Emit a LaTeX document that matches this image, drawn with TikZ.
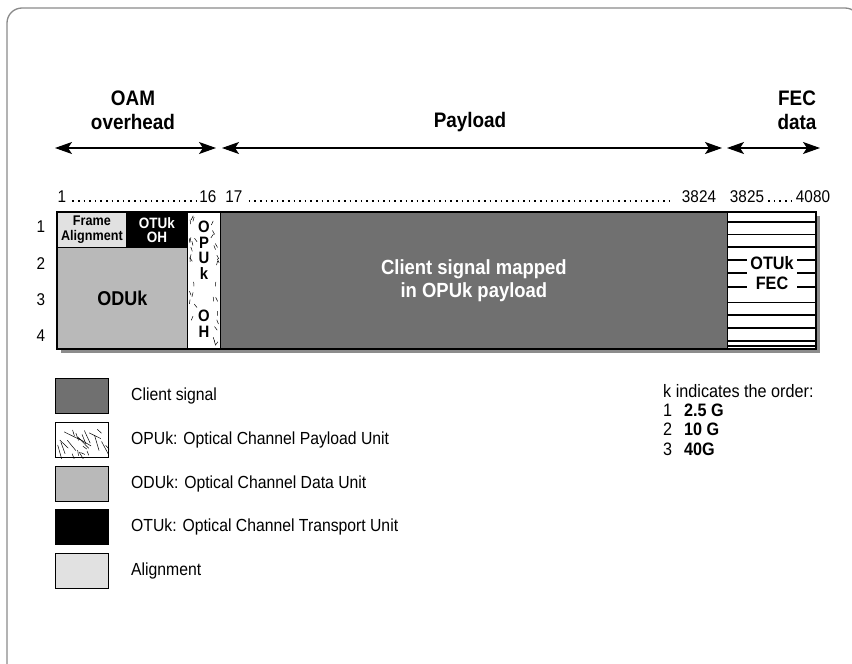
\documentclass[tikz,border=0pt]{standalone}
\usepackage{fontspec}
\setmainfont{Liberation Sans}[FakeStretch=0.9]
\usepackage{tikz}
\usetikzlibrary{arrows.meta,positioning}

\definecolor{clientgray}{HTML}{707070}
\definecolor{odugray}{HTML}{B9B9B9}
\definecolor{aligngray}{HTML}{E1E1E1}
\definecolor{shadowgray}{HTML}{8C8C8C}
\definecolor{framegray}{HTML}{8A8A8A}

\tikzset{
	cell/.style={draw=black, line width=0.8pt, anchor=north west, inner sep=0pt, align=center},
	span/.style={{Stealth[length=17pt,width=12pt,inset=4pt]}-{Stealth[length=17pt,width=12pt,inset=4pt]}, line width=1.1pt},
	head/.style={font=\bfseries\fontsize{21}{24}\selectfont, align=center, inner sep=0pt},
	num/.style={font=\fontsize{17}{17}\selectfont, inner sep=0pt, anchor=base},
	numdots/.style={line width=1.6pt, dash pattern=on 1.6pt off 4pt},
	swatch/.style={draw=black, line width=1.2pt, minimum width=53pt, minimum height=35pt, inner sep=0pt, anchor=north west},
	legtext/.style={font=\fontsize{17.5}{17.5}\selectfont, anchor=west, inner sep=0pt},
}

\begin{document}
\begin{tikzpicture}[x=1pt,y=-1pt]
	\useasboundingbox (0,0) rectangle (852,664);
	\draw[framegray, line width=1.3pt, rounded corners=15pt] (7,8) rectangle (860,680);

	% section headings and spans
	\node[head] (oam) at (133,110) {OAM\\overhead};
	\node[head] (payload) at (470,122) {Payload};
	\node[head] (fecdata) at (797,110) {FEC\\data};
	\coordinate (oamL) at (55,148);
	\coordinate (oamR) at (216,148);
	\coordinate (payL) at (222,148);
	\coordinate (payR) at (722,148);
	\coordinate (fecL) at (727,148);
	\coordinate (fecR) at (820,148);
	\draw[span] (oamL) -- (oamR);
	\draw[span] (payL) -- (payR);
	\draw[span] (fecL) -- (fecR);

	% column numbers
	\node[num] (c1) at (62,202) {1};
	\node[num] (c16) at (208,202) {16};
	\node[num] (c17) at (234,202) {17};
	\node[num] (c3824) at (699,202) {3824};
	\node[num] (c3825) at (747,202) {3825};
	\node[num] (c4080) at (813,202) {4080};
	\draw[numdots] ([xshift=6pt,yshift=0.8pt]c1.base east) -- ([xshift=-1pt,yshift=0.8pt]c16.base west);
	\draw[numdots] ([xshift=6pt,yshift=0.8pt]c17.base east) -- ([xshift=-8pt,yshift=0.8pt]c3824.base west);
	\draw[numdots] ([xshift=4pt,yshift=0.8pt]c3825.base east) -- ([xshift=-2pt,yshift=0.8pt]c4080.base west);

	% row numbers
	\foreach \r/\y in {1/227,2/264,3/300,4/336}
		\node[font=\fontsize{17}{17}\selectfont] (row\r) at (41,\y) {\r};

	% frame
	\fill[shadowgray] (61,216) rectangle (820,353);
	\node[cell, fill=aligngray, minimum width=69pt, minimum height=35pt, font=\bfseries\fontsize{14}{14.5}\selectfont] (fa) at (57,212) {Frame\\Alignment};
	\node[cell, fill=black, text=white, minimum width=61pt, minimum height=35pt, font=\bfseries\fontsize{15}{14.5}\selectfont] (otuoh) at (126,212) {OTUk\\OH};
	\node[cell, fill=odugray, minimum width=130pt, minimum height=102pt, font=\bfseries\fontsize{20}{20}\selectfont] (odu) at (57,247) {ODUk};
	\node[cell, fill=white, minimum width=33pt, minimum height=137pt] (opu) at (187,212) {};
	\node[cell, fill=clientgray, text=white, minimum width=507pt, minimum height=137pt, font=\bfseries\fontsize{20.5}{23.5}\selectfont] (pay) at (220,212) {Client signal mapped\\in OPUk payload};
	\node[cell, fill=white, minimum width=89pt, minimum height=137pt] (fec) at (727,212) {};

	% OPUk texture
	\pgfmathsetseed{11}
	\foreach \i in {1,...,34}{
		\pgfmathsetmacro{\px}{ifthenelse(mod(\i,2)==0, 189+rnd*6, 212+rnd*6)}
		\pgfmathsetmacro{\py}{215+rnd*130}
		\pgfmathsetmacro{\pa}{50+rnd*80}
		\draw[line width=0.5pt] (\px,\py) -- ++(\pa:4.5);
	}
	\node[font=\bfseries\fontsize{16.5}{15.7}\selectfont, align=center, inner sep=0pt] (opuoh) at (204,279) {O\\P\\U\\k\\[26pt]O\\H};

	% FEC stripes
	\foreach \y in {222,234.5,247,260,273,287,302.5,315,328,341,346}
		\draw[line width=1.1pt] (727,\y) -- (816,\y);
	\node[fill=white, font=\bfseries\fontsize{18}{20}\selectfont, align=center, inner sep=3pt] (fectext) at (772,273) {OTUk\\FEC};
	\draw[line width=1.4pt] (57,212) rectangle (816,349);

	% legend
	\node[swatch, fill=clientgray] (lclient) at (55,378) {};
	\node[swatch, fill=white] (lopu) at (55,422) {};
	\node[swatch, fill=odugray] (lodu) at (55,466) {};
	\node[swatch, fill=black] (lotu) at (55,509) {};
	\node[swatch, fill=aligngray] (lalign) at (55,553) {};
	\begin{scope}
		\clip (lopu.south west) rectangle (lopu.north east);
		\pgfmathsetseed{5}
		\foreach \i in {1,...,22}{
			\pgfmathsetmacro{\px}{57+rnd*49}
			\pgfmathsetmacro{\py}{424+rnd*31}
			\pgfmathsetmacro{\pa}{20+rnd*70}
			\pgfmathsetmacro{\pl}{4+rnd*14}
			\draw[line width=0.5pt] (\px,\py) -- ++(\pa:\pl);
		}
	\end{scope}
	\node[swatch] at (lopu.north west) {};
	\node[legtext] (tclient) at (131,396) {Client signal};
	\node[legtext] (topu) at (131,440) {OPUk: Optical Channel Payload Unit};
	\node[legtext] (todu) at (131,484) {ODUk: Optical Channel Data Unit};
	\node[legtext] (totu) at (131,527) {OTUk: Optical Channel Transport Unit};
	\node[legtext] (talign) at (131,571) {Alignment};

	\node[font=\fontsize{18}{19.3}\selectfont, align=left, anchor=north west, inner sep=0pt] (korder) at (663,384) {k indicates the order:\\
		\makebox[21pt][l]{1}\textbf{2.5 G}\\
		\makebox[21pt][l]{2}\textbf{10 G}\\
		\makebox[21pt][l]{3}\textbf{40G}};
\end{tikzpicture}
\end{document}
